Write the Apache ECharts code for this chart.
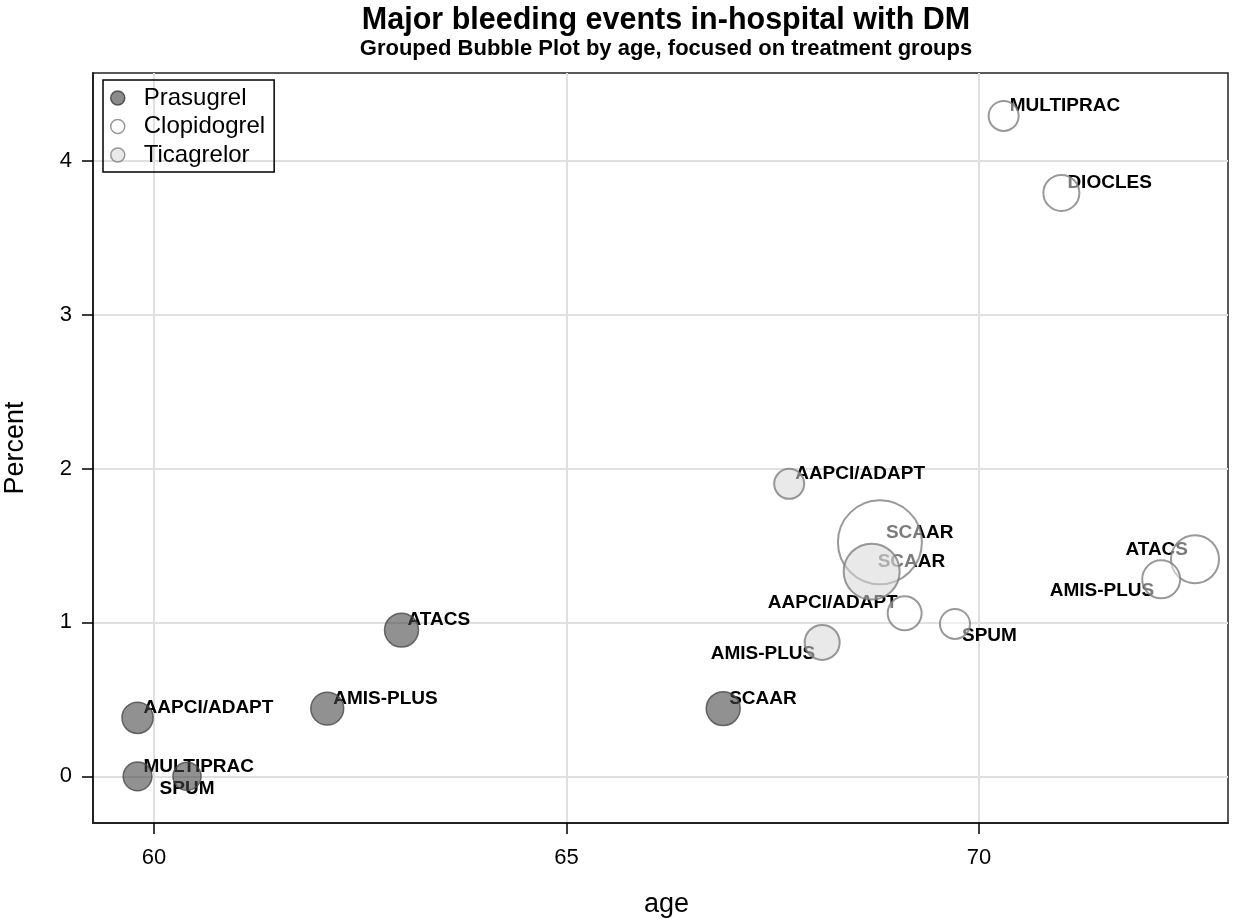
<!DOCTYPE html>
<html><head><meta charset="utf-8">
<script src="https://cdn.jsdelivr.net/npm/echarts@6/dist/echarts.min.js"></script>
<style>html,body{margin:0;padding:0;background:#fff}#c{width:1238px;height:920px}</style>
</head><body><div id="c"></div>
<script>
// ---- data ----
const xTicks = [60, 65, 70];
const yTicks = [0, 1, 2, 3, 4];

const prasugrelNames   = ['AAPCI/ADAPT', 'MULTIPRAC', 'SPUM', 'AMIS-PLUS', 'ATACS', 'SCAAR'];
const prasugrelAge     = [59.80, 59.80, 60.40, 62.10, 63.00, 66.90];
const prasugrelPercent = [0.38, 0.00, 0.00, 0.44, 0.95, 0.44];
const prasugrelBubble  = [27, 23, 22, 30, 32, 32];

const clopidogrelNames   = ['MULTIPRAC', 'DIOCLES', 'SCAAR', 'ATACS', 'AMIS-PLUS', 'AAPCI/ADAPT', 'SPUM'];
const clopidogrelAge     = [70.30, 71.00, 68.80, 72.62, 72.21, 69.10, 69.71];
const clopidogrelPercent = [4.29, 3.79, 1.52, 1.41, 1.28, 1.06, 0.99];
const clopidogrelBubble  = [25, 36, 196, 64, 40, 32, 25];

const ticagrelorNames   = ['AAPCI/ADAPT', 'SCAAR', 'AMIS-PLUS'];
const ticagrelorAge     = [67.70, 68.70, 68.10];
const ticagrelorPercent = [1.90, 1.33, 0.87];
const ticagrelorBubble  = [25, 87, 34];

// ---- label placement (style) ----
const prasugrelLabelPos   = ['ur', 'ur', 'b', 'ur', 'ur', 'ur'];
const clopidogrelLabelPos = ['ur', 'ur', 'ur', 'ul', 'll', 'ul', 'lr'];
const ticagrelorLabelPos  = ['ur', 'ur', 'll'];

const FONT = '"Liberation Sans", Arial, Helvetica, sans-serif';
const placements = {
  ur: {align: 'left',   dx: 6,  dy: -10},
  ul: {align: 'right',  dx: -7, dy: -10},
  lr: {align: 'left',   dx: 7,  dy: 12},
  ll: {align: 'right',  dx: -7, dy: 11},
  b:  {align: 'center', dx: 0,  dy: 12}
};

function bubbleData(ages, pcts, bubbles, names) {
  return ages.map((a, i) => ({name: names[i], value: [a, pcts[i], bubbles[i]]}));
}
function labelData(ages, pcts, names, pos) {
  return ages.map((a, i) => ({
    name: names[i],
    value: [a, pcts[i]],
    label: {align: placements[pos[i]].align}
  }));
}
const sizeFn = d => 6 * Math.sqrt(d[2]);

const groups = [
  {name: 'Prasugrel', ages: prasugrelAge, pcts: prasugrelPercent, bubbles: prasugrelBubble, names: prasugrelNames, pos: prasugrelLabelPos,
   style: {color: 'rgba(70,70,70,0.74)', borderColor: '#4a4a4a', borderWidth: 1.5},
   legend: {color: '#6e6e6e', borderColor: '#3a3a3a', borderWidth: 1.5}},
  {name: 'Clopidogrel', ages: clopidogrelAge, pcts: clopidogrelPercent, bubbles: clopidogrelBubble, names: clopidogrelNames, pos: clopidogrelLabelPos,
   style: {color: 'rgba(255,255,255,0.6)', borderColor: '#808080', borderWidth: 2},
   legend: {color: '#ffffff', borderColor: '#808080', borderWidth: 1.5}},
  {name: 'Ticagrelor', ages: ticagrelorAge, pcts: ticagrelorPercent, bubbles: ticagrelorBubble, names: ticagrelorNames, pos: ticagrelorLabelPos,
   style: {color: 'rgba(215,215,215,0.7)', borderColor: '#808080', borderWidth: 2},
   legend: {color: '#e3e3e3', borderColor: '#808080', borderWidth: 1.5}}
];

const series = [];
groups.forEach(g => {
  series.push({
    name: g.name + ' labels',
    type: 'scatter',
    z: 2,
    silent: true,
    symbolSize: 1,
    itemStyle: {color: 'rgba(0,0,0,0)'},
    label: {
      show: true, position: 'inside', formatter: p => p.name,
      color: '#000', opacity: 1, textBorderWidth: 0,
      fontFamily: FONT, fontWeight: 'bold', fontSize: 19,
      verticalAlign: 'middle'
    },
    labelLayout: p => {
      const pl = placements[g.pos[p.dataIndex]];
      return {dx: pl.dx, dy: pl.dy, align: pl.align, verticalAlign: 'middle', hideOverlap: false};
    },
    data: labelData(g.ages, g.pcts, g.names, g.pos)
  });
});
groups.forEach(g => {
  series.push({
    name: g.name,
    type: 'scatter',
    z: 3,
    symbol: 'circle',
    symbolSize: sizeFn,
    itemStyle: g.style,
    emphasis: {disabled: true},
    data: bubbleData(g.ages, g.pcts, g.bubbles, g.names)
  });
});

const chart = echarts.init(document.getElementById('c'), null, {renderer: 'canvas'});
chart.setOption({
  animation: false,
  backgroundColor: '#fff',
  title: {
    text: 'Major bleeding events in-hospital with DM',
    subtext: 'Grouped Bubble Plot by age, focused on treatment groups',
    left: 666, top: 6, textAlign: 'center', padding: 0, itemGap: 1,
    textStyle: {fontFamily: FONT, fontWeight: 'bold', fontSize: 30.5, lineHeight: 30, color: '#000'},
    subtextStyle: {fontFamily: FONT, fontWeight: 'bold', fontSize: 22, lineHeight: 22, color: '#000'}
  },
  legend: {
    orient: 'vertical', left: 103, top: 80,
    padding: [6, 9, 5, 7], itemGap: 4.5,
    itemWidth: 14, itemHeight: 14,
    borderColor: '#000', borderWidth: 1.5,
    icon: 'circle',
    textStyle: {fontFamily: FONT, fontSize: 24, lineHeight: 24, color: '#000', padding: [0, 0, 0, 14]},
    data: groups.map(g => ({name: g.name, itemStyle: g.legend}))
  },
  grid: {left: 93, right: 10, top: 73, bottom: 97, show: true, borderColor: '#222', borderWidth: 1.5,
         containLabel: false, outerBoundsMode: 'none'},
  xAxis: {
    type: 'value', min: 59.26, max: 73.02,
    name: 'age', nameLocation: 'middle', nameGap: 68,
    nameTextStyle: {fontFamily: FONT, fontSize: 27, color: '#000', padding: [0, 0, 0, 12]},
    axisLine: {show: true, onZero: false, lineStyle: {color: '#222', width: 2}},
    axisTick: {show: true, length: 11, customValues: xTicks, lineStyle: {color: '#000', width: 1.5}},
    axisLabel: {customValues: xTicks, margin: 24, fontFamily: FONT, fontSize: 22, color: '#000'},
    splitLine: {show: true, lineStyle: {color: '#e0e0e0', width: 2}}
  },
  yAxis: {
    type: 'value', min: -0.303, max: 4.569,
    name: 'Percent', nameLocation: 'middle', nameGap: 64,
    nameTextStyle: {fontFamily: FONT, fontSize: 27, color: '#000'},
    axisLine: {show: true, onZero: false, lineStyle: {color: '#222', width: 2}},
    axisTick: {show: true, length: 11, customValues: yTicks, lineStyle: {color: '#000', width: 1.5}},
    axisLabel: {customValues: yTicks, margin: 21, fontFamily: FONT, fontSize: 22, color: '#000'},
    splitLine: {show: true, lineStyle: {color: '#e0e0e0', width: 2}}
  },
  series: series
});
</script>
</body></html>
